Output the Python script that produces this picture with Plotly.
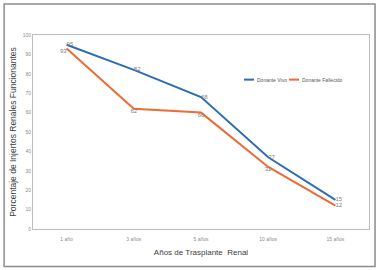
import plotly.graph_objects as go

categories = ["1 año", "3 años", "5 años", "10 años", "15 años"]
vivo = [95, 82, 68, 37, 15]
fallecido = [93, 62, 60, 32, 12]
series_names = ["Donante Vivo", "Donante Fallecido"]
y_ticks = list(range(0, 101, 10))

BLUE = "#2E6DB4"
ORANGE = "#EE6A38"
FONT = "Liberation Sans"
LABEL = dict(size=6, color="#7f7f7f", family=FONT)

fig = go.Figure()
fig.add_trace(go.Scatter(
    x=categories, y=vivo, name=series_names[0], mode="lines+text",
    line=dict(color=BLUE, width=2),
    text=[str(v) for v in vivo], textposition="middle right",
    textfont=LABEL, showlegend=False,
))
fig.add_trace(go.Scatter(
    x=categories, y=fallecido, name=series_names[1], mode="lines+text",
    line=dict(color=ORANGE, width=2),
    text=[str(v) for v in fallecido],
    textposition=["bottom left", "bottom center", "bottom center", "bottom center", "middle right"],
    textfont=LABEL, showlegend=False,
))

# compact legend (Excel style) in paper coordinates
legend_items = [(series_names[0], BLUE, 0.628), (series_names[1], ORANGE, 0.762)]
shapes = []
annotations = []
legend_y = 0.77
for name, col, x0 in legend_items:
    shapes.append(dict(type="line", xref="paper", yref="paper", x0=x0, x1=x0 + 0.03,
                       y0=legend_y, y1=legend_y, line=dict(color=col, width=2)))
    annotations.append(dict(xref="paper", yref="paper", x=x0 + 0.033, y=legend_y,
                            text=name, showarrow=False, xanchor="left", yanchor="middle",
                            font=dict(size=5, color="#595959", family=FONT)))

shapes.append(dict(type="rect", xref="paper", yref="paper",
                   x0=-0.086, x1=1.018, y0=-0.193, y1=1.16,
                   line=dict(color="#8c8c8c", width=1.5), fillcolor="rgba(0,0,0,0)"))

fig.update_layout(
    width=378, height=270,
    margin=dict(l=33, r=9, t=35, b=41),
    paper_bgcolor="white", plot_bgcolor="white",
    font=dict(family=FONT, color="#595959"),
    showlegend=False,
    xaxis=dict(type="category", range=[-0.5, 4.5], showgrid=False, automargin=False,
               showline=True, linecolor="#bfbfbf", mirror=True, ticks="",
               tickfont=dict(size=5, color="#8c8c8c"), ticklabelstandoff=5,
               title=dict(text="Años de Trasplante  Renal", font=dict(size=8, color="#404040"), standoff=8)),
    yaxis=dict(range=[0, 100], tickvals=y_ticks, showgrid=False, automargin=False,
               showline=True, linecolor="#bfbfbf", mirror=True, ticks="",
               tickfont=dict(size=5, color="#8c8c8c"),
               title=dict(text="Porcentaje de Injertos Renales Funcionantes",
                          font=dict(size=8.5, color="#404040"), standoff=4)),
    shapes=shapes,
    annotations=annotations,
)

fig.write_html("out.html", config={"displayModeBar": False},
               post_script="document.body.style.margin='0';")
